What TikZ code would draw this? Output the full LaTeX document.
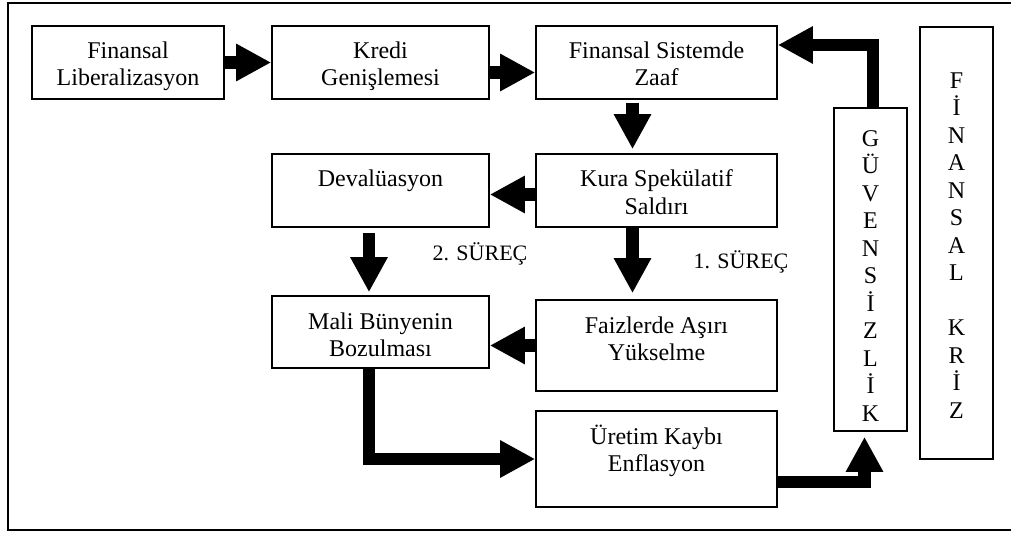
\documentclass[tikz,border=0pt]{standalone}
\usepackage{fontspec}
\setmainfont{Liberation Serif}
\usetikzlibrary{arrows.meta}
\tikzset{font=\fontsize{12}{13.5}\selectfont}
\tikzstyle{process} = [rectangle, draw=black, line width=0.8pt,%
text centered, align=center, inner sep=0pt]
\tikzstyle{column} = [process, minimum width=36.5pt,%
font=\fontsize{12}{13.75}\selectfont]
\tikzstyle{arrow} = [line width=6.25pt,%
-{Triangle[length=17.5pt,width=17.5pt]}]
\tikzstyle{note} = [anchor=base, font=\fontsize{11}{13}\selectfont]

\begin{document}
\begin{tikzpicture}[x=0.5pt, y=-0.5pt]
    \useasboundingbox (0,0) rectangle (1011,534);
    \draw [line width=0.75pt] (1011,3) -- (8,3) -- (8,530) -- (1011,530);

    \node (liberal) [process, minimum width=96pt, minimum height=36.5pt,%
      text height=29.5pt, text depth=6pt] at (128,62.5) {Finansal\\Liberalizasyon};
    \node (kredi) [process, minimum width=108.5pt, minimum height=36.5pt,%
      text height=29.5pt, text depth=6pt] at (380.5,62.5) {Kredi\\Genişlemesi};
    \node (zaaf) [process, minimum width=120.5pt, minimum height=36.5pt,%
      text height=29.5pt, text depth=6pt] at (656.5,62.5) {Finansal Sistemde\\Zaaf};
    \node (kura) [process, minimum width=120.5pt, minimum height=36.5pt,%
      text height=29.5pt, text depth=6pt] at (656.5,190.5) {Kura Spekülatif\\Saldırı};
    \node (deval) [process, minimum width=108.5pt, minimum height=36.5pt,%
      text height=8pt, text depth=11.5pt] at (380.5,190.5) {Devalüasyon};
    \node (mali) [process, minimum width=108.5pt, minimum height=36pt,%
      text height=29pt, text depth=5pt] at (380.5,332) {Mali Bünyenin\\Bozulması};
    \node (faiz) [process, minimum width=120.5pt, minimum height=45.5pt,%
      text height=24.5pt, text depth=10pt] at (656.5,345.5) {Faizlerde Aşırı\\Yükselme};
    \node (uretim) [process, minimum width=120.5pt, minimum height=48pt,%
      text height=22pt, text depth=10pt] at (656.5,459) {Üretim Kaybı\\Enflasyon};

    \node (guven) [column, minimum height=161.5pt, text height=151.5pt, text depth=0pt]%
      at (870.5,269.5) {G\\Ü\\V\\E\\N\\S\\İ\\Z\\L\\İ\\K};
    \node (kriz) [column, minimum height=216pt, text height=175pt, text depth=0pt]%
      at (956.5,243) {F\\İ\\N\\A\\N\\S\\A\\L\\[13.75pt]K\\R\\İ\\Z};

    \node (surec2) [note] at (480,261) {2. SÜREÇ};
    \node (surec1) [note] at (741,268) {1. SÜREÇ};

    \draw [arrow] (liberal) -- (kredi);
    \draw [arrow] ([yshift=-5pt]kredi.east) -- ([yshift=-5pt]zaaf.west);
    \draw [arrow, shorten <=1.5pt, shorten >=2pt] ([xshift=-12pt]zaaf.south) -- ([xshift=-12pt]kura.north);
    \draw [arrow] ([yshift=-2pt]kura.west) -- ([yshift=-2pt]deval.east);
    \draw [arrow, shorten >=3pt] ([xshift=-12pt]kura.south) -- ([xshift=-12pt]faiz.north);
    \draw [arrow, shorten <=2.5pt, shorten >=1.5pt] ([xshift=-5.75pt]deval.south) -- ([xshift=-5.75pt]mali.north);
    \draw [arrow] (faiz.west) -- (faiz.west -| mali.east);
    \draw [arrow] ([xshift=-5.75pt]mali.south) |- (uretim.west);
    \draw [arrow, shorten >=2.5pt] ([yshift=-11.5pt]uretim.east) -| ([xshift=-3pt]guven.south);
    \draw [arrow] ([xshift=1.25pt]guven.north) |- ([yshift=8.75pt]zaaf.east);
  \end{tikzpicture}
\end{document}
